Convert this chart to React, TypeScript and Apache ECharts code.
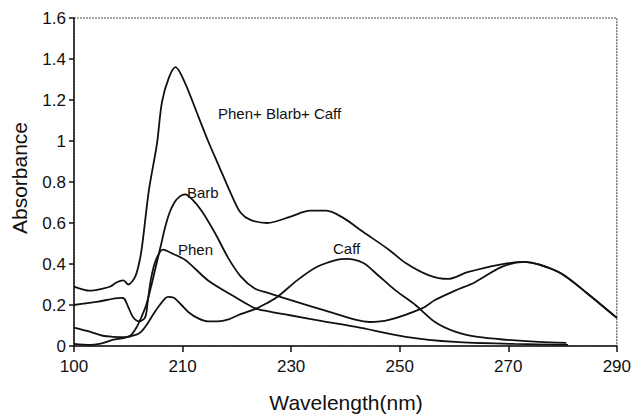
import React, { useEffect, useRef } from "react";
import * as echarts from "echarts";

// X tick labels as printed in the reference (the first one reads "100")
const xTickLabels = ["100", "210", "230", "250", "270", "290"];

// Phen+ Blarb+ Caff (mixture)
const mixWl = [190, 192.9, 195.3, 196.7, 197.8, 199.1, 200.0, 201.3, 202.2, 202.7, 203.8, 205.3, 206.2, 207.5, 208.7, 210.5, 212.9, 214.7, 216.5, 219.3, 220.7, 222.5, 225.6, 229.8, 233.5, 236.5, 239.6, 243.3, 248.0, 251.1, 255.3, 258.9, 262.5, 268.0, 272.9, 279.6, 284.4, 290];
const mixAbs = [0.29, 0.27, 0.28, 0.29, 0.31, 0.32, 0.30, 0.34, 0.43, 0.52, 0.76, 0.99, 1.19, 1.31, 1.36, 1.28, 1.12, 1.0, 0.89, 0.72, 0.65, 0.615, 0.6, 0.63, 0.66, 0.66, 0.625, 0.556, 0.47, 0.405, 0.346, 0.327, 0.36, 0.395, 0.41, 0.356, 0.26, 0.137];

// Barb
const barbWl = [190, 192.9, 194.7, 196, 197.1, 199.3, 200.4, 201.5, 202.4, 203.3, 204.2, 205.1, 206, 206.8, 207.6, 208.5, 209.5, 210.5, 211.6, 213.5, 216, 218.4, 220.7, 223.3, 225.6, 229.8, 236, 242, 244.4, 248, 254.2, 256.5, 260.2, 263.8, 268.7, 272.9, 276.5, 279.6, 284.4, 290];
const barbAbs = [0.01, 0.005, 0.01, 0.02, 0.03, 0.04, 0.05, 0.09, 0.14, 0.2, 0.29, 0.39, 0.49, 0.58, 0.65, 0.7, 0.73, 0.74, 0.72, 0.66, 0.55, 0.43, 0.34, 0.28, 0.26, 0.225, 0.175, 0.127, 0.117, 0.127, 0.185, 0.224, 0.27, 0.31, 0.385, 0.41, 0.39, 0.356, 0.26, 0.137];

// Phen
const phenWl = [190, 194.2, 198.7, 199.3, 200, 200.9, 202, 203.1, 203.6, 204.2, 205.1, 206.4, 208.2, 210.5, 211.8, 214.7, 219.6, 223.3, 225.6, 229.8, 236, 242, 251.1, 260.2, 271.1, 281];
const phenAbs = [0.2, 0.215, 0.235, 0.23, 0.19, 0.14, 0.12, 0.14, 0.22, 0.33, 0.42, 0.47, 0.45, 0.42, 0.39, 0.32, 0.24, 0.185, 0.17, 0.15, 0.12, 0.093, 0.045, 0.02, 0.01, 0.005];

// Caff
const caffWl = [190, 192.9, 195.3, 197.1, 199.3, 201.5, 202.4, 203.3, 204.5, 205.8, 207.3, 208.4, 209.8, 211.1, 212.9, 214.7, 216.5, 218.5, 220.2, 223.8, 225.6, 227.5, 231.1, 234.7, 238.4, 240.2, 243.3, 245.6, 249.3, 252.9, 256.5, 260.2, 264.4, 269.8, 275.6, 280.7];
const caffAbs = [0.09, 0.07, 0.05, 0.045, 0.043, 0.055, 0.07, 0.1, 0.15, 0.2, 0.24, 0.235, 0.2, 0.165, 0.135, 0.12, 0.12, 0.13, 0.15, 0.185, 0.21, 0.24, 0.32, 0.385, 0.42, 0.425, 0.405, 0.355, 0.27, 0.2, 0.117, 0.07, 0.044, 0.03, 0.02, 0.015];

const FONT = "'Liberation Sans', Arial, sans-serif";
const INK = "#111";

const zip = (xs: number[], ys: number[]) => xs.map((x, i) => [x, ys[i]]);

export default function App() {
  const ref = useRef<HTMLDivElement>(null);
  useEffect(() => {
    if (!ref.current) return;
    const chart = echarts.init(ref.current, undefined, { renderer: "svg" });
    const lineSeries = (name: string, wl: number[], ab: number[]) => ({
      name,
      type: "line",
      data: zip(wl, ab),
      smooth: 0.3,
      symbol: "none",
      lineStyle: { color: INK, width: 1.8 },
    });
    chart.setOption({
      animation: false,
      backgroundColor: "#fff",
      grid: {
        left: 74,
        top: 18,
        width: 550,
        height: 328,
        show: true,
        backgroundColor: "rgba(0,0,0,0)",
        borderColor: "#555",
        borderWidth: 1.2,
        borderType: [2, 1],
      },
      xAxis: {
        type: "value",
        min: 190,
        max: 290,
        interval: 20,
        axisLine: { show: true, lineStyle: { color: INK, width: 1.5 } },
        axisTick: { show: true, length: 6, lineStyle: { color: INK, width: 1.5 } },
        axisLabel: {
          color: INK,
          fontSize: 17,
          fontFamily: FONT,
          margin: 12,
          formatter: (v: number) => xTickLabels[Math.round((v - 190) / 20)] ?? "",
        },
        splitLine: { show: false },
      },
      yAxis: {
        type: "value",
        min: 0,
        max: 1.6,
        interval: 0.2,
        axisLine: { show: true, lineStyle: { color: INK, width: 1.5 } },
        axisTick: { show: true, length: 5, lineStyle: { color: INK, width: 1.5 } },
        axisLabel: { color: INK, fontSize: 17, fontFamily: FONT, margin: 8 },
        splitLine: { show: false },
      },
      series: [
        lineSeries("Phen+ Blarb+ Caff", mixWl, mixAbs),
        lineSeries("Barb", barbWl, barbAbs),
        lineSeries("Phen", phenWl, phenAbs),
        lineSeries("Caff", caffWl, caffAbs),
      ],
      graphic: [
        {
          type: "text",
          x: 19,
          y: 178,
          rotation: Math.PI / 2,
          style: { text: "Absorbance", font: `21px ${FONT}`, fill: INK, align: "center", verticalAlign: "middle" },
        },
        {
          type: "text",
          x: 346,
          y: 402,
          style: { text: "Wavelength(nm)", font: `21px ${FONT}`, fill: INK, align: "center", verticalAlign: "middle" },
        },
        {
          type: "text",
          x: 218,
          y: 113,
          style: { text: "Phen+ Blarb+ Caff", font: `15px ${FONT}`, fill: INK, align: "left", verticalAlign: "middle" },
        },
        {
          type: "text",
          x: 187,
          y: 192,
          style: { text: "Barb", font: `15px ${FONT}`, fill: INK, align: "left", verticalAlign: "middle" },
        },
        {
          type: "text",
          x: 178,
          y: 249,
          style: { text: "Phen", font: `15px ${FONT}`, fill: INK, align: "left", verticalAlign: "middle" },
        },
        {
          type: "text",
          x: 333,
          y: 248,
          style: { text: "Caff", font: `15px ${FONT}`, fill: INK, align: "left", verticalAlign: "middle" },
        },
      ],
    });
    return () => chart.dispose();
  }, []);
  return (
    <div
      ref={ref}
      style={{ position: "fixed", left: 0, top: 0, width: 634, height: 414, background: "#fff" }}
    />
  );
}
